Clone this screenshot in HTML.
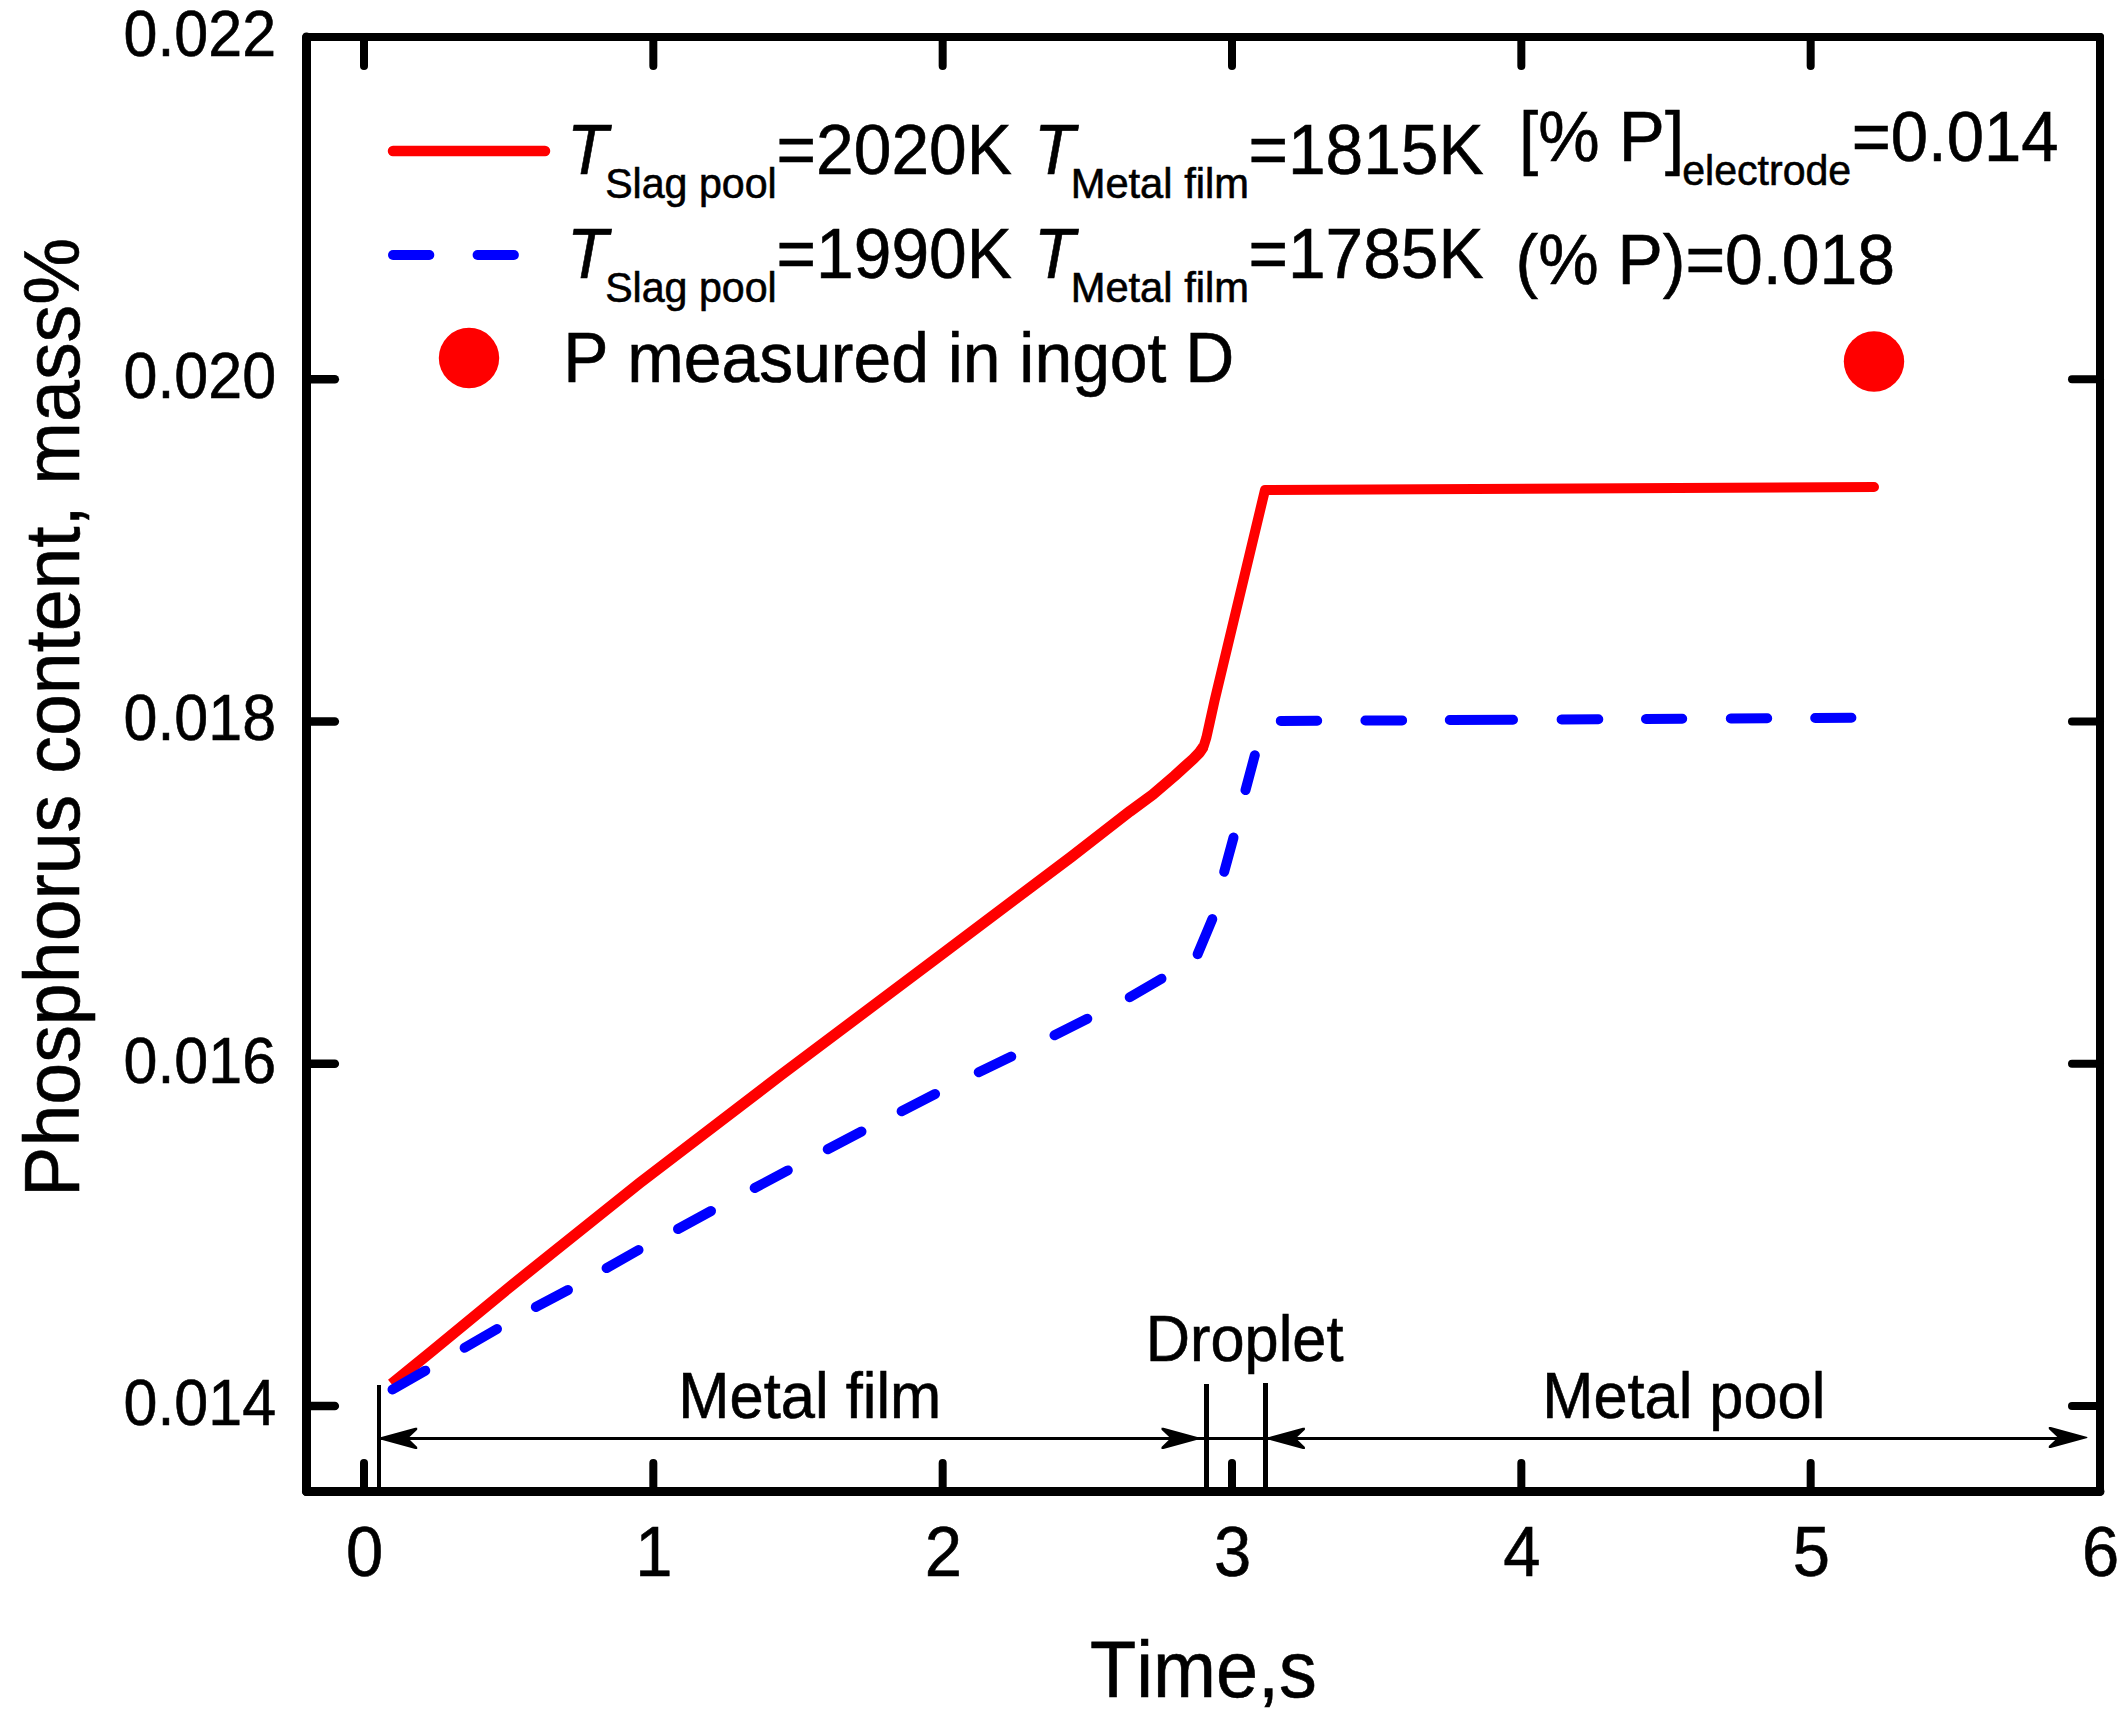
<!DOCTYPE html>
<html lang="en"><head><meta charset="utf-8"><title>Phosphorus content vs time</title>
<style>html,body{margin:0;padding:0;background:#fff;}body{width:2126px;height:1727px;overflow:hidden;}svg{display:block;}text{font-family:'Liberation Sans', Arial, sans-serif;fill:#000;stroke:#000;stroke-width:0.6px;font-kerning:none;font-variant-ligatures:none;}</style>
</head><body>
<svg width="2126" height="1727" viewBox="0 0 2126 1727" role="img" aria-label="Phosphorus content versus time">
<rect x="0" y="0" width="2126" height="1727" fill="#ffffff"/>
<g stroke="#000" fill="none" shape-rendering="crispEdges">
<line x1="379" y1="1385" x2="379" y2="1491" stroke-width="4"/>
<line x1="1206.4" y1="1384" x2="1206.4" y2="1491" stroke-width="4.4"/>
<line x1="1265.6" y1="1383" x2="1265.6" y2="1491" stroke-width="4.4"/>
<line x1="381" y1="1438.3" x2="2080" y2="1438.3" stroke-width="3.4"/>
</g>
<polygon fill="#000" points="378.7,1437.7 415.2,1427.7 417.2,1427.7 417.2,1429.7 408.2,1438.3 417.2,1446.9 417.2,1448.9 415.2,1448.9 378.7,1438.9"/>
<polygon fill="#000" points="1200.0,1437.7 1163.5,1427.7 1161.5,1427.7 1161.5,1429.7 1170.5,1438.3 1161.5,1446.9 1161.5,1448.9 1163.5,1448.9 1200.0,1438.9"/>
<polygon fill="#000" points="1266.4,1437.7 1302.9,1427.7 1304.9,1427.7 1304.9,1429.7 1295.9,1438.3 1304.9,1446.9 1304.9,1448.9 1302.9,1448.9 1266.4,1438.9"/>
<polygon fill="#000" points="2087.3,1436.9 2050.8,1426.9 2048.8,1426.9 2048.8,1428.9 2057.8,1437.5 2048.8,1446.1 2048.8,1448.1 2050.8,1448.1 2087.3,1438.1"/>
<g stroke="#000" fill="none" stroke-linejoin="round">
<line x1="306.50" y1="37.00" x2="306.50" y2="1491.50" stroke-width="9" stroke-linecap="round"/>
<line x1="2100.00" y1="37.00" x2="2100.00" y2="1491.50" stroke-width="8" stroke-linecap="round"/>
<line x1="306.50" y1="37.00" x2="2100.00" y2="37.00" stroke-width="8" stroke-linecap="round"/>
<line x1="306.50" y1="1491.50" x2="2100.00" y2="1491.50" stroke-width="9" stroke-linecap="round"/>
<g stroke-linecap="round">
<line x1="364.00" y1="1491.50" x2="364.00" y2="1463.00" stroke-width="8"/>
<line x1="364.00" y1="37.00" x2="364.00" y2="66.00" stroke-width="8"/>
<line x1="653.33" y1="1491.50" x2="653.33" y2="1463.00" stroke-width="8"/>
<line x1="653.33" y1="37.00" x2="653.33" y2="66.00" stroke-width="8"/>
<line x1="942.67" y1="1491.50" x2="942.67" y2="1463.00" stroke-width="8"/>
<line x1="942.67" y1="37.00" x2="942.67" y2="66.00" stroke-width="8"/>
<line x1="1232.00" y1="1491.50" x2="1232.00" y2="1463.00" stroke-width="8"/>
<line x1="1232.00" y1="37.00" x2="1232.00" y2="66.00" stroke-width="8"/>
<line x1="1521.33" y1="1491.50" x2="1521.33" y2="1463.00" stroke-width="8"/>
<line x1="1521.33" y1="37.00" x2="1521.33" y2="66.00" stroke-width="8"/>
<line x1="1810.67" y1="1491.50" x2="1810.67" y2="1463.00" stroke-width="8"/>
<line x1="1810.67" y1="37.00" x2="1810.67" y2="66.00" stroke-width="8"/>
<line x1="306.50" y1="379.25" x2="334.80" y2="379.25" stroke-width="8.6"/>
<line x1="2100.00" y1="379.25" x2="2072.00" y2="379.25" stroke-width="8"/>
<line x1="306.50" y1="721.50" x2="334.80" y2="721.50" stroke-width="8.6"/>
<line x1="2100.00" y1="721.50" x2="2072.00" y2="721.50" stroke-width="8"/>
<line x1="306.50" y1="1063.75" x2="334.80" y2="1063.75" stroke-width="8.6"/>
<line x1="2100.00" y1="1063.75" x2="2072.00" y2="1063.75" stroke-width="8"/>
<line x1="306.50" y1="1406.00" x2="334.80" y2="1406.00" stroke-width="8.6"/>
<line x1="2100.00" y1="1406.00" x2="2072.00" y2="1406.00" stroke-width="8"/>
</g></g>
<text x="123.52" y="56.00" font-size="64.70" textLength="152.55" lengthAdjust="spacingAndGlyphs">0.022</text>
<text x="123.52" y="398.00" font-size="64.70" textLength="152.55" lengthAdjust="spacingAndGlyphs">0.020</text>
<text x="123.52" y="740.00" font-size="64.70" textLength="152.55" lengthAdjust="spacingAndGlyphs">0.018</text>
<text x="123.52" y="1083.00" font-size="64.70" textLength="152.55" lengthAdjust="spacingAndGlyphs">0.016</text>
<text x="123.52" y="1425.00" font-size="64.70" textLength="152.55" lengthAdjust="spacingAndGlyphs">0.014</text>
<text x="345.99" y="1576" font-size="70.60" textLength="37.22" lengthAdjust="spacingAndGlyphs">0</text>
<text x="635.32" y="1576" font-size="70.60" textLength="37.22" lengthAdjust="spacingAndGlyphs">1</text>
<text x="924.66" y="1576" font-size="70.60" textLength="37.22" lengthAdjust="spacingAndGlyphs">2</text>
<text x="1213.99" y="1576" font-size="70.60" textLength="37.22" lengthAdjust="spacingAndGlyphs">3</text>
<text x="1503.32" y="1576" font-size="70.60" textLength="37.22" lengthAdjust="spacingAndGlyphs">4</text>
<text x="1792.66" y="1576" font-size="70.60" textLength="37.22" lengthAdjust="spacingAndGlyphs">5</text>
<text x="2081.99" y="1576" font-size="70.60" textLength="37.22" lengthAdjust="spacingAndGlyphs">6</text>
<text x="1090.10" y="1697.00" font-size="79.00" textLength="226.73" lengthAdjust="spacingAndGlyphs">Time,s</text>
<text transform="translate(79,1196.88) rotate(-90)" font-size="78.50" textLength="959.17" lengthAdjust="spacingAndGlyphs">Phosphorus content, mass%</text>
<polyline fill="none" stroke="#ff0000" stroke-width="11" stroke-linejoin="round" stroke-linecap="butt" points="391.5,1384.1 432.1,1350.9 511.7,1285.4 640.0,1182.8 781.1,1074.9 940.0,955.6 1071.1,857.0 1130.1,811.2 1152.7,794.6 1174.6,775.8 1183.9,767.4 1193.2,759.0 1199.4,752.6 1203.6,746.5"/>
<polyline fill="none" stroke="#ff0000" stroke-width="10" stroke-linejoin="round" stroke-linecap="round" points="1203.6,746.5 1206.4,737.5 1209.6,723.2 1214.7,700.0 1265.0,490.0 1874.0,487.0"/>
<g stroke="#0000ff" stroke-width="10" stroke-linecap="round" fill="none">
<line x1="392.5" y1="1389.5" x2="425.3" y2="1370.7"/>
<line x1="464.6" y1="1347.8" x2="497.0" y2="1329.0"/>
<line x1="535.8" y1="1307.0" x2="568.0" y2="1290.0"/>
<line x1="606.6" y1="1268.1" x2="638.5" y2="1250.0"/>
<line x1="678.0" y1="1229.0" x2="711.0" y2="1211.0"/>
<line x1="754.7" y1="1188.0" x2="787.8" y2="1170.4"/>
<line x1="827.7" y1="1149.2" x2="861.5" y2="1131.5"/>
<line x1="901.6" y1="1111.2" x2="935.1" y2="1094.0"/>
<line x1="978.7" y1="1072.2" x2="1011.3" y2="1056.6"/>
<line x1="1054.5" y1="1035.3" x2="1087.3" y2="1018.7"/>
<line x1="1129.7" y1="997.2" x2="1161.5" y2="978.7"/>
<line x1="1197.6" y1="954.2" x2="1212.3" y2="919.1"/>
<line x1="1224.2" y1="871.8" x2="1233.5" y2="837.6"/>
<line x1="1245.5" y1="790.1" x2="1254.8" y2="755.3"/>
<line x1="1280.8" y1="720.9" x2="1317.2" y2="720.8"/>
<line x1="1365.4" y1="720.5" x2="1402.1" y2="720.4"/>
<line x1="1449.8" y1="720.0" x2="1513.0" y2="719.7"/>
<line x1="1561.6" y1="719.4" x2="1598.3" y2="719.2"/>
<line x1="1646.0" y1="718.9" x2="1682.2" y2="718.7"/>
<line x1="1730.8" y1="718.4" x2="1767.2" y2="718.2"/>
<line x1="1815.2" y1="718.0" x2="1851.4" y2="717.8"/>
</g>
<circle cx="1874" cy="361.5" r="30.2" fill="#ff0000"/>
<line x1="393" y1="151" x2="545" y2="151" stroke="#ff0000" stroke-width="10.5" stroke-linecap="round"/>
<g stroke="#0000ff" stroke-width="10" stroke-linecap="round"><line x1="393" y1="255" x2="429.3" y2="255"/><line x1="477.6" y1="255" x2="513.9" y2="255"/></g>
<circle cx="469" cy="358" r="30.2" fill="#ff0000"/>
<text x="566.89" y="174.00" font-size="70.00" font-style="italic" textLength="40.86" lengthAdjust="spacingAndGlyphs">T</text>
<text x="605.13" y="198.00" font-size="42.00" textLength="171.62" lengthAdjust="spacingAndGlyphs">Slag pool</text>
<text x="776.59" y="174.00" font-size="70.00" textLength="235.27" lengthAdjust="spacingAndGlyphs">=2020K</text>
<text x="1033.99" y="174.00" font-size="70.00" font-style="italic" textLength="40.86" lengthAdjust="spacingAndGlyphs">T</text>
<text x="1070.68" y="198.00" font-size="42.00" textLength="178.26" lengthAdjust="spacingAndGlyphs">Metal film</text>
<text x="1248.40" y="174.00" font-size="70.00" textLength="235.16" lengthAdjust="spacingAndGlyphs">=1815K</text>
<text x="566.89" y="278.00" font-size="70.00" font-style="italic" textLength="40.86" lengthAdjust="spacingAndGlyphs">T</text>
<text x="605.13" y="302.00" font-size="42.00" textLength="171.62" lengthAdjust="spacingAndGlyphs">Slag pool</text>
<text x="776.59" y="278.00" font-size="70.00" textLength="235.27" lengthAdjust="spacingAndGlyphs">=1990K</text>
<text x="1033.99" y="278.00" font-size="70.00" font-style="italic" textLength="40.86" lengthAdjust="spacingAndGlyphs">T</text>
<text x="1070.68" y="302.00" font-size="42.00" textLength="178.26" lengthAdjust="spacingAndGlyphs">Metal film</text>
<text x="1248.40" y="278.00" font-size="70.00" textLength="235.16" lengthAdjust="spacingAndGlyphs">=1785K</text>
<text x="1519.08" y="161.00" font-size="70.00" textLength="165.05" lengthAdjust="spacingAndGlyphs">[% P]</text>
<text x="1682.26" y="185.00" font-size="42.00" textLength="168.97" lengthAdjust="spacingAndGlyphs">electrode</text>
<text x="1851.73" y="161.00" font-size="70.00" textLength="206.84" lengthAdjust="spacingAndGlyphs">=0.014</text>
<text x="1515.59" y="284.00" font-size="70.00" textLength="379.46" lengthAdjust="spacingAndGlyphs">(% P)=0.018</text>
<text x="563.24" y="382.00" font-size="70.00" textLength="671.01" lengthAdjust="spacingAndGlyphs">P measured in ingot D</text>
<text x="678.36" y="1418.00" font-size="64.50" textLength="262.89" lengthAdjust="spacingAndGlyphs">Metal film</text>
<text x="1145.77" y="1361.00" font-size="64.50" textLength="197.68" lengthAdjust="spacingAndGlyphs">Droplet</text>
<text x="1542.37" y="1418.00" font-size="64.50" textLength="282.93" lengthAdjust="spacingAndGlyphs">Metal pool</text>
</svg>
</body></html>
